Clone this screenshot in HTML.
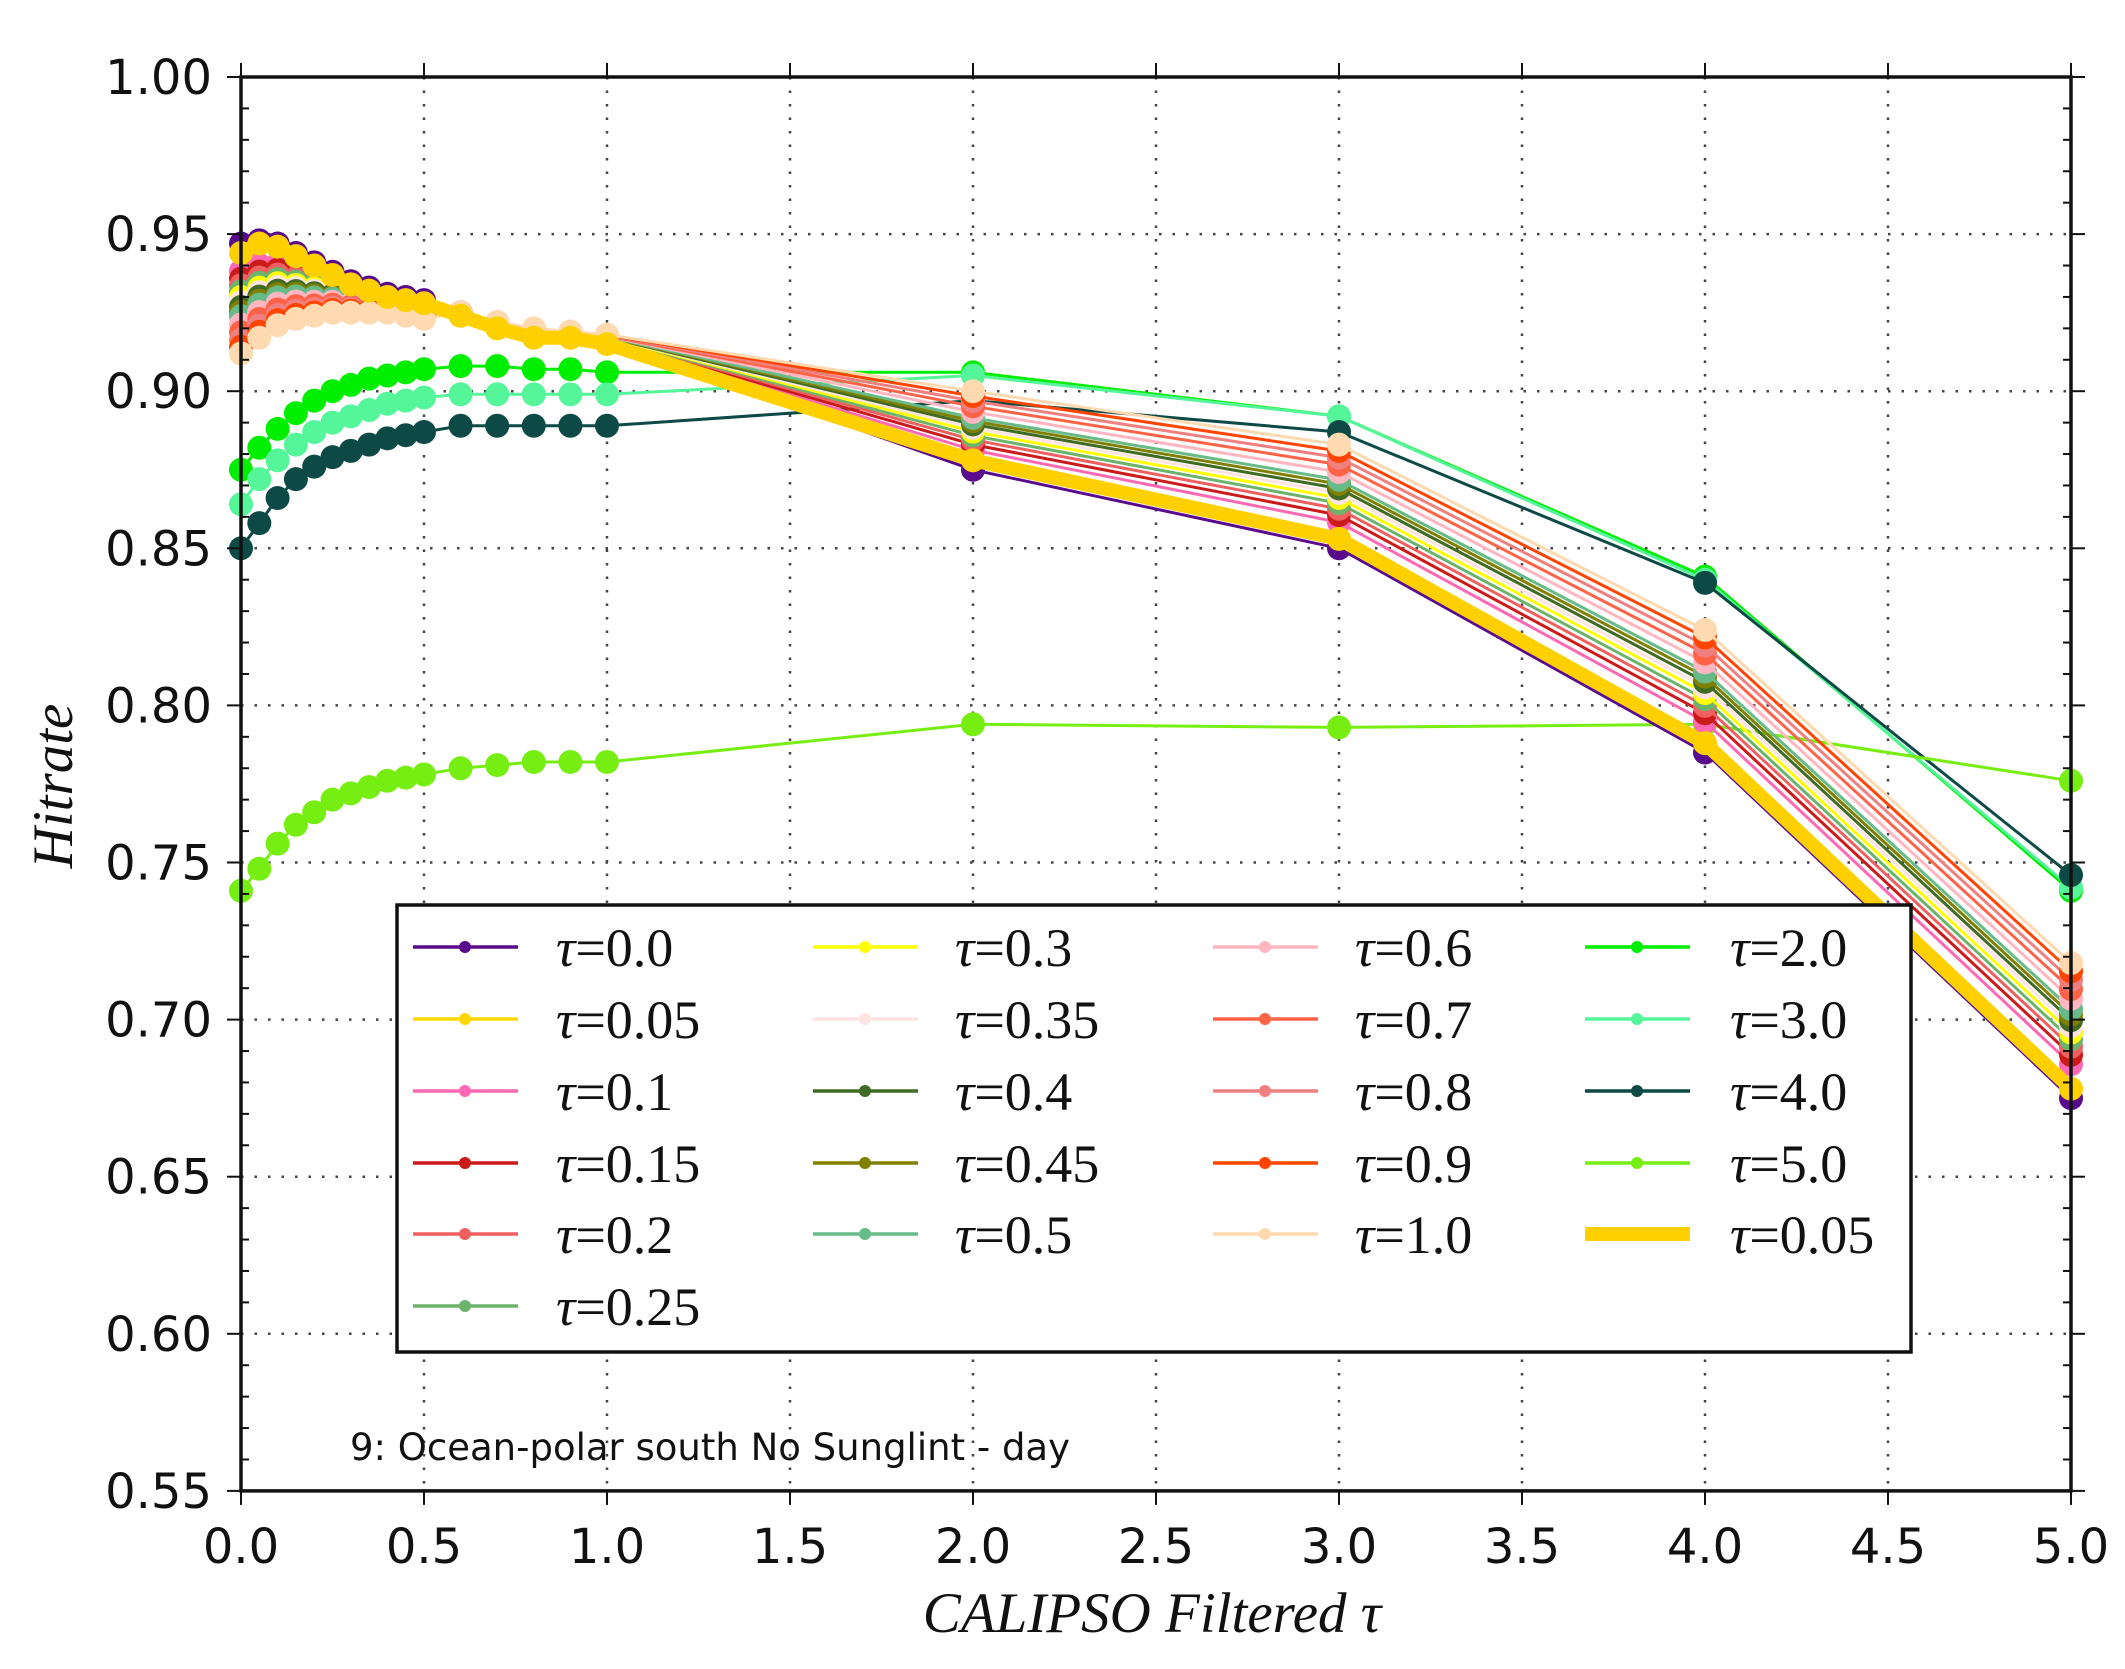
<!DOCTYPE html>
<html><head><meta charset="utf-8"><style>
html,body{margin:0;padding:0;background:#fff;}
svg{display:block;}
</style></head><body>
<svg id="s" width="2125" height="1669" xmlns="http://www.w3.org/2000/svg">
<rect width="2125" height="1669" fill="#fff"/>
<g id="grid"></g>
<g id="series"></g>
<g id="frame"></g>
<g id="legend"></g>
<text x="350" y="1460" font-family="DejaVu Sans, Liberation Sans, sans-serif" font-size="37" fill="#111">9: Ocean-polar south No Sunglint - day</text>
<text x="1152" y="1632" text-anchor="middle" font-family="Liberation Serif, serif" font-style="italic" font-size="57" fill="#111">CALIPSO Filtered τ</text>
<text transform="translate(72,786) rotate(-90)" text-anchor="middle" font-family="Liberation Serif, serif" font-style="italic" font-size="57" fill="#111">Hitrate</text>
</svg>
<script>
var NS="http://www.w3.org/2000/svg";
function X(t){return 241+366*t;}
function Y(v){return 77+(1-v)*3142;}
function el(p,n,a,txt){var e=document.createElementNS(NS,n);for(var k in a)e.setAttribute(k,a[k]);if(txt!==undefined)e.textContent=txt;p.appendChild(e);return e;}
var G=document.getElementById('grid'),S=document.getElementById('series'),F=document.getElementById('frame'),L=document.getElementById('legend');
var xs=[0,0.05,0.1,0.15,0.2,0.25,0.3,0.35,0.4,0.45,0.5,0.6,0.7,0.8,0.9,1,2,3,4,5];
for(var i=1;i<10;i++){var x=X(i*0.5);el(G,'line',{x1:x,y1:Y(1),x2:x,y2:Y(0.55),stroke:'#444','stroke-width':2.5,'stroke-dasharray':'2.5 11'});}
for(var i=1;i<9;i++){var y=Y(1-i*0.05);el(G,'line',{x1:X(0),y1:y,x2:X(5),y2:y,stroke:'#444','stroke-width':2.5,'stroke-dasharray':'2.5 11'});}
var A=[0.947,0.948,0.947,0.944,0.941,0.938,0.935,0.933,0.931,0.930,0.929,0.925,0.921,0.918,0.918,0.916,0.875,0.850,0.785,0.675];
var B=[0.912,0.917,0.921,0.923,0.924,0.925,0.925,0.925,0.925,0.924,0.923,0.925,0.922,0.920,0.919,0.918,0.900,0.883,0.824,0.718];
var norm=[[0,'#5a0a8c'],[0.1,'#ff69b4'],[0.15,'#cc1a1a'],[0.2,'#f06060'],[0.25,'#6cb36c'],[0.3,'#ffff00'],[0.35,'#ffe4e1'],[0.4,'#3f6b22'],[0.45,'#808000'],[0.5,'#66bb88'],[0.6,'#ffb6c1'],[0.7,'#ff6347'],[0.8,'#f08080'],[0.9,'#ff4500'],[1.0,'#ffdab0']];
function draw(vals,col,lw,r){
  var d='';for(var i=0;i<xs.length;i++)d+=(i?'L':'M')+X(xs[i]).toFixed(1)+' '+Y(vals[i]).toFixed(1);
  el(S,'path',{d:d,fill:'none',stroke:col,'stroke-width':lw,'stroke-linejoin':'round'});
  for(var i=0;i<xs.length;i++)el(S,'circle',{cx:X(xs[i]),cy:Y(vals[i]),r:r,fill:col});
}
var green=[[[0.875,0.882,0.888,0.893,0.897,0.900,0.902,0.904,0.905,0.906,0.907,0.908,0.908,0.907,0.907,0.906,0.906,0.892,0.841,0.741],'#00ee00'],
[[0.864,0.872,0.878,0.883,0.887,0.890,0.892,0.894,0.896,0.897,0.898,0.899,0.899,0.899,0.899,0.899,0.905,0.892,0.840,0.742],'#55f59a'],
[[0.850,0.858,0.866,0.872,0.876,0.879,0.881,0.883,0.885,0.886,0.887,0.889,0.889,0.889,0.889,0.889,0.897,0.887,0.839,0.746],'#0d4a45'],
[[0.741,0.748,0.756,0.762,0.766,0.770,0.772,0.774,0.776,0.777,0.778,0.780,0.781,0.782,0.782,0.782,0.794,0.793,0.794,0.776],'#77ee11']];
for(var g=0;g<green.length;g++)draw(green[g][0],green[g][1],3,12);
for(var n=0;n<norm.length;n++){var k=norm[n][0],w=Math.pow(k,0.6);var v=A.map(function(a,i){return a+(B[i]-a)*w;});draw(v,norm[n][1],3,12);}
var gold=A.map(function(a,i){return i==0?a-0.003:(xs[i]>=2?a+0.003:a-0.001);});
draw(gold,'#ffd000',14,12);
el(F,'rect',{x:X(0),y:Y(1),width:X(5)-X(0),height:Y(0.55)-Y(1),fill:'none',stroke:'#111','stroke-width':3.5});
for(var i=0;i<=10;i++){var x=X(i*0.5);el(F,'line',{x1:x,y1:Y(0.55),x2:x,y2:Y(0.55)+14,stroke:'#111','stroke-width':2});el(F,'line',{x1:x,y1:Y(1),x2:x,y2:Y(1)-14,stroke:'#111','stroke-width':2});
 el(F,'text',{x:x,y:1563,'text-anchor':'middle','font-family':'DejaVu Sans, Liberation Sans, sans-serif','font-size':48,fill:'#111'},(i*0.5).toFixed(1));}
for(var i=0;i<=45;i++){var v=0.55+i*0.01,y=Y(v);var maj=(i%5==0);
 if(maj){el(F,'line',{x1:X(0)-14,y1:y,x2:X(0),y2:y,stroke:'#111','stroke-width':2});el(F,'line',{x1:X(5),y1:y,x2:X(5)+14,y2:y,stroke:'#111','stroke-width':2});
  el(F,'text',{x:212,y:y+17,'text-anchor':'end','font-family':'DejaVu Sans, Liberation Sans, sans-serif','font-size':48,fill:'#111'},v.toFixed(2));}
 else{el(F,'line',{x1:X(0),y1:y,x2:X(0)+8,y2:y,stroke:'#111','stroke-width':2});el(F,'line',{x1:X(5)-8,y1:y,x2:X(5),y2:y,stroke:'#111','stroke-width':2});}}
el(L,'rect',{x:397,y:905,width:1514,height:447,fill:'#fff',stroke:'#111','stroke-width':3.5});
var ents=[['0.0','#5a0a8c'],['0.05','#ffd700'],['0.1','#ff69b4'],['0.15','#cc1a1a'],['0.2','#f06060'],['0.25','#6cb36c'],
['0.3','#ffff00'],['0.35','#ffe4e1'],['0.4','#3f6b22'],['0.45','#808000'],['0.5','#66bb88'],
['0.6','#ffb6c1'],['0.7','#ff6347'],['0.8','#f08080'],['0.9','#ff4500'],['1.0','#ffdab0'],
['2.0','#00ee00'],['3.0','#55f59a'],['4.0','#0d4a45'],['5.0','#77ee11'],['0.05','#ffd000',1]];
var cols=[[413,556],[813,955],[1213,1355],[1585,1730]];
var rows=[947,1019,1091,1163,1234,1306];
var per=[6,5,5,5];var idx=0;
for(var c=0;c<4;c++){for(var r=0;r<per[c];r++){var e=ents[idx++];var y=rows[r];
 if(e[2]){el(L,'line',{x1:cols[c][0],y1:y,x2:cols[c][0]+105,y2:y,stroke:e[1],'stroke-width':14});}
 else{el(L,'line',{x1:cols[c][0],y1:y,x2:cols[c][0]+105,y2:y,stroke:e[1],'stroke-width':3.5});el(L,'circle',{cx:cols[c][0]+52,cy:y,r:6,fill:e[1]});}
 var t=el(L,'text',{x:cols[c][1],y:y+19,'font-family':'Liberation Serif, serif','font-size':54,fill:'#111'});
 el(t,'tspan',{'font-style':'italic'},'τ');el(t,'tspan',{},'='+e[0]);}}
</script>
</body></html>
